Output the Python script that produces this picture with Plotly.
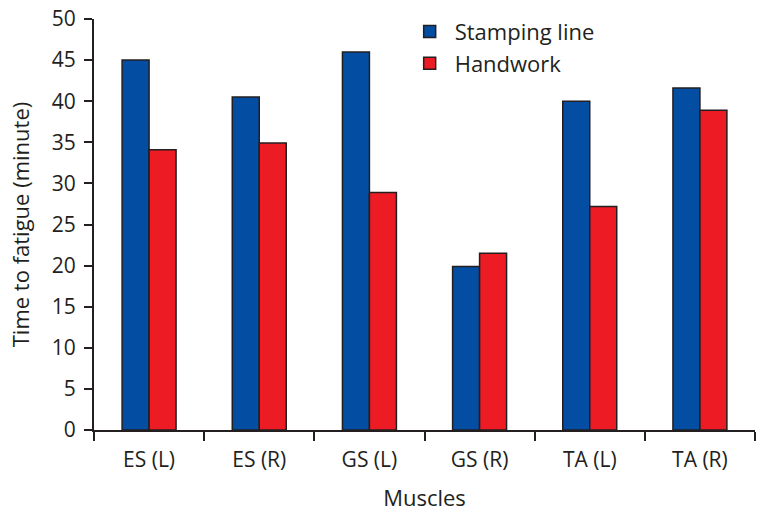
import plotly.graph_objects as go

categories = ["ES (L)", "ES (R)", "GS (L)", "GS (R)", "TA (L)", "TA (R)"]
stamping_line = [45.0, 40.5, 46.0, 19.9, 40.0, 41.6]
handwork = [34.1, 34.9, 28.9, 21.5, 27.2, 38.9]
y_ticks = [0, 5, 10, 15, 20, 25, 30, 35, 40, 45, 50]

FONT = "Open Sans"
INK = "#231F20"

fig = go.Figure()
fig.add_trace(go.Bar(name="Stamping line", x=categories, y=stamping_line,
                     marker=dict(color="#034EA2", line=dict(color=INK, width=1.5))))
fig.add_trace(go.Bar(name="Handwork", x=categories, y=handwork,
                     marker=dict(color="#ED1C24", line=dict(color=INK, width=1.5))))

fig.update_layout(
    width=782, height=523,
    margin=dict(l=94, r=27, t=19, b=93, autoexpand=False),
    paper_bgcolor="white", plot_bgcolor="white",
    barmode="group", bargap=0.51, bargroupgap=0,
    font=dict(family=FONT, size=20, color=INK),
    showlegend=True,
    legend=dict(x=0.47, y=1.02, xanchor="left", yanchor="top",
                bgcolor="rgba(0,0,0,0)", font=dict(size=22, color=INK),
                itemwidth=40, tracegroupgap=0),
)
fig.update_xaxes(
    automargin=False,
    showline=True, linecolor=INK, linewidth=2,
    ticks="outside", tickson="boundaries", ticklen=9, tickwidth=2, tickcolor=INK,
    tickfont=dict(size=21, color=INK), ticklabelstandoff=10,
    title=dict(text="Muscles", font=dict(size=22, color=INK), standoff=18),
    showgrid=False, zeroline=False,
)
fig.update_yaxes(
    automargin=False,
    range=[0, 50], tickvals=y_ticks,
    showline=True, linecolor=INK, linewidth=2,
    ticks="outside", ticklen=8, tickwidth=2, tickcolor=INK,
    tickfont=dict(size=21, color=INK), ticklabelstandoff=4,
    title=dict(text="Time to fatigue (minute)", font=dict(size=22, color=INK), standoff=16),
    showgrid=False, zeroline=False,
)

fig.write_html("out.html", config={"displayModeBar": False},
               post_script="document.body.style.margin='0';")
